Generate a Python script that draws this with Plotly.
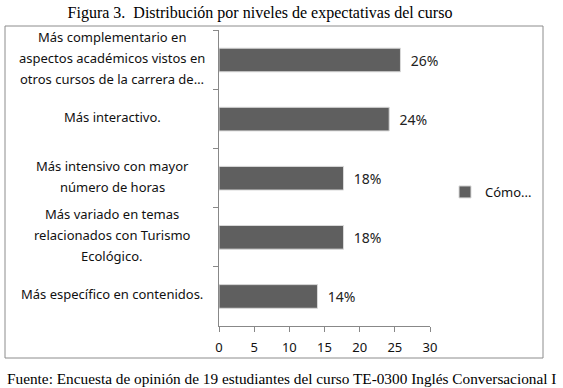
import plotly.graph_objects as go

categories = [
    "Más complementario en<br>aspectos académicos vistos en<br>otros cursos de la carrera de…",
    "Más interactivo.",
    "Más intensivo con mayor<br>número de horas",
    "Más variado en temas<br>relacionados con Turismo<br>Ecológico.",
    "Más específico en contenidos.",
]
values = [25.8, 24.2, 17.7, 17.7, 14.0]
value_labels = ["26%", "24%", "18%", "18%", "14%"]
series_name = "Cómo..."
x_ticks = [0, 5, 10, 15, 20, 25, 30]

W, H = 563, 388
L, R, T, B = 219, 133, 30, 62
pw, ph = W - L - R, H - T - B

fig = go.Figure()
fig.add_trace(go.Bar(
    y=categories, x=values, orientation="h", name=series_name,
    marker=dict(color="#5f5f5f", line=dict(color="#d9d9d9", width=1)),
    text=value_labels, texttemplate="\u00a0\u00a0%{text}", textposition="outside", cliponaxis=False,
    textfont=dict(family="Noto Sans", size=14, color="#222222"),
    showlegend=True, hoverinfo="skip",
))

annotations = []
line_h = 21
for cat in categories:
    lines = cat.split("<br>")
    n = len(lines)
    for i, ln in enumerate(lines):
        annotations.append(dict(
            x=0, xref="paper", y=cat, yref="y", xanchor="center",
            xshift=-(L - 112), yshift=((n - 1) / 2 - i) * line_h + 2,
            text=ln, showarrow=False,
            font=dict(family="Noto Sans", size=13, color="#111111"),
        ))

def px_x(p):
    return (p - L) / pw

def px_y(p):
    return (H - B - p) / ph

fig.add_shape(type="rect", xref="paper", yref="paper",
              x0=px_x(5), x1=px_x(543), y0=px_y(358), y1=px_y(26),
              line=dict(color="#8c8c8c", width=1), fillcolor="rgba(0,0,0,0)", layer="below")

fig.update_layout(
    width=W, height=H, margin=dict(l=L, r=R, t=T, b=B),
    paper_bgcolor="white", plot_bgcolor="white",
    bargap=0.6,
    title=dict(text="Figura 3.  Distribución por niveles de expectativas del curso",
               x=260 / W, xanchor="center", y=1 - 12 / H, yanchor="middle",
               font=dict(family="Liberation Serif", size=16, color="black")),
    xaxis=dict(range=[0, 30], tickvals=x_ticks, showgrid=False, zeroline=False,
               showline=True, linecolor="#888888", linewidth=1,
               ticks="outside", ticklen=5, tickcolor="#888888", ticklabelstandoff=4,
               tickfont=dict(family="Noto Sans", size=13, color="#111111")),
    yaxis=dict(autorange="reversed", showgrid=False, zeroline=False,
               showline=True, linecolor="#888888", linewidth=1,
               ticks="outside", ticklen=5, tickcolor="#888888", tickson="boundaries",
               showticklabels=False, type="category"),
    legend=dict(x=px_x(445), y=px_y(192), xanchor="left", yanchor="middle",
                font=dict(family="Noto Sans", size=13, color="#111111"),
                bgcolor="rgba(0,0,0,0)"),
    annotations=annotations + [dict(
        text="Fuente: Encuesta de opinión de 19 estudiantes del curso TE-0300 Inglés Conversacional I",
        xref="paper", yref="paper", x=px_x(281), y=px_y(378), xanchor="center", yanchor="middle",
        showarrow=False, font=dict(family="Liberation Serif", size=15.3, color="black"))],
)

fig.write_html("out.html", config={"displayModeBar": False},
               post_script="document.body.style.margin='0';document.body.style.padding='0';")
